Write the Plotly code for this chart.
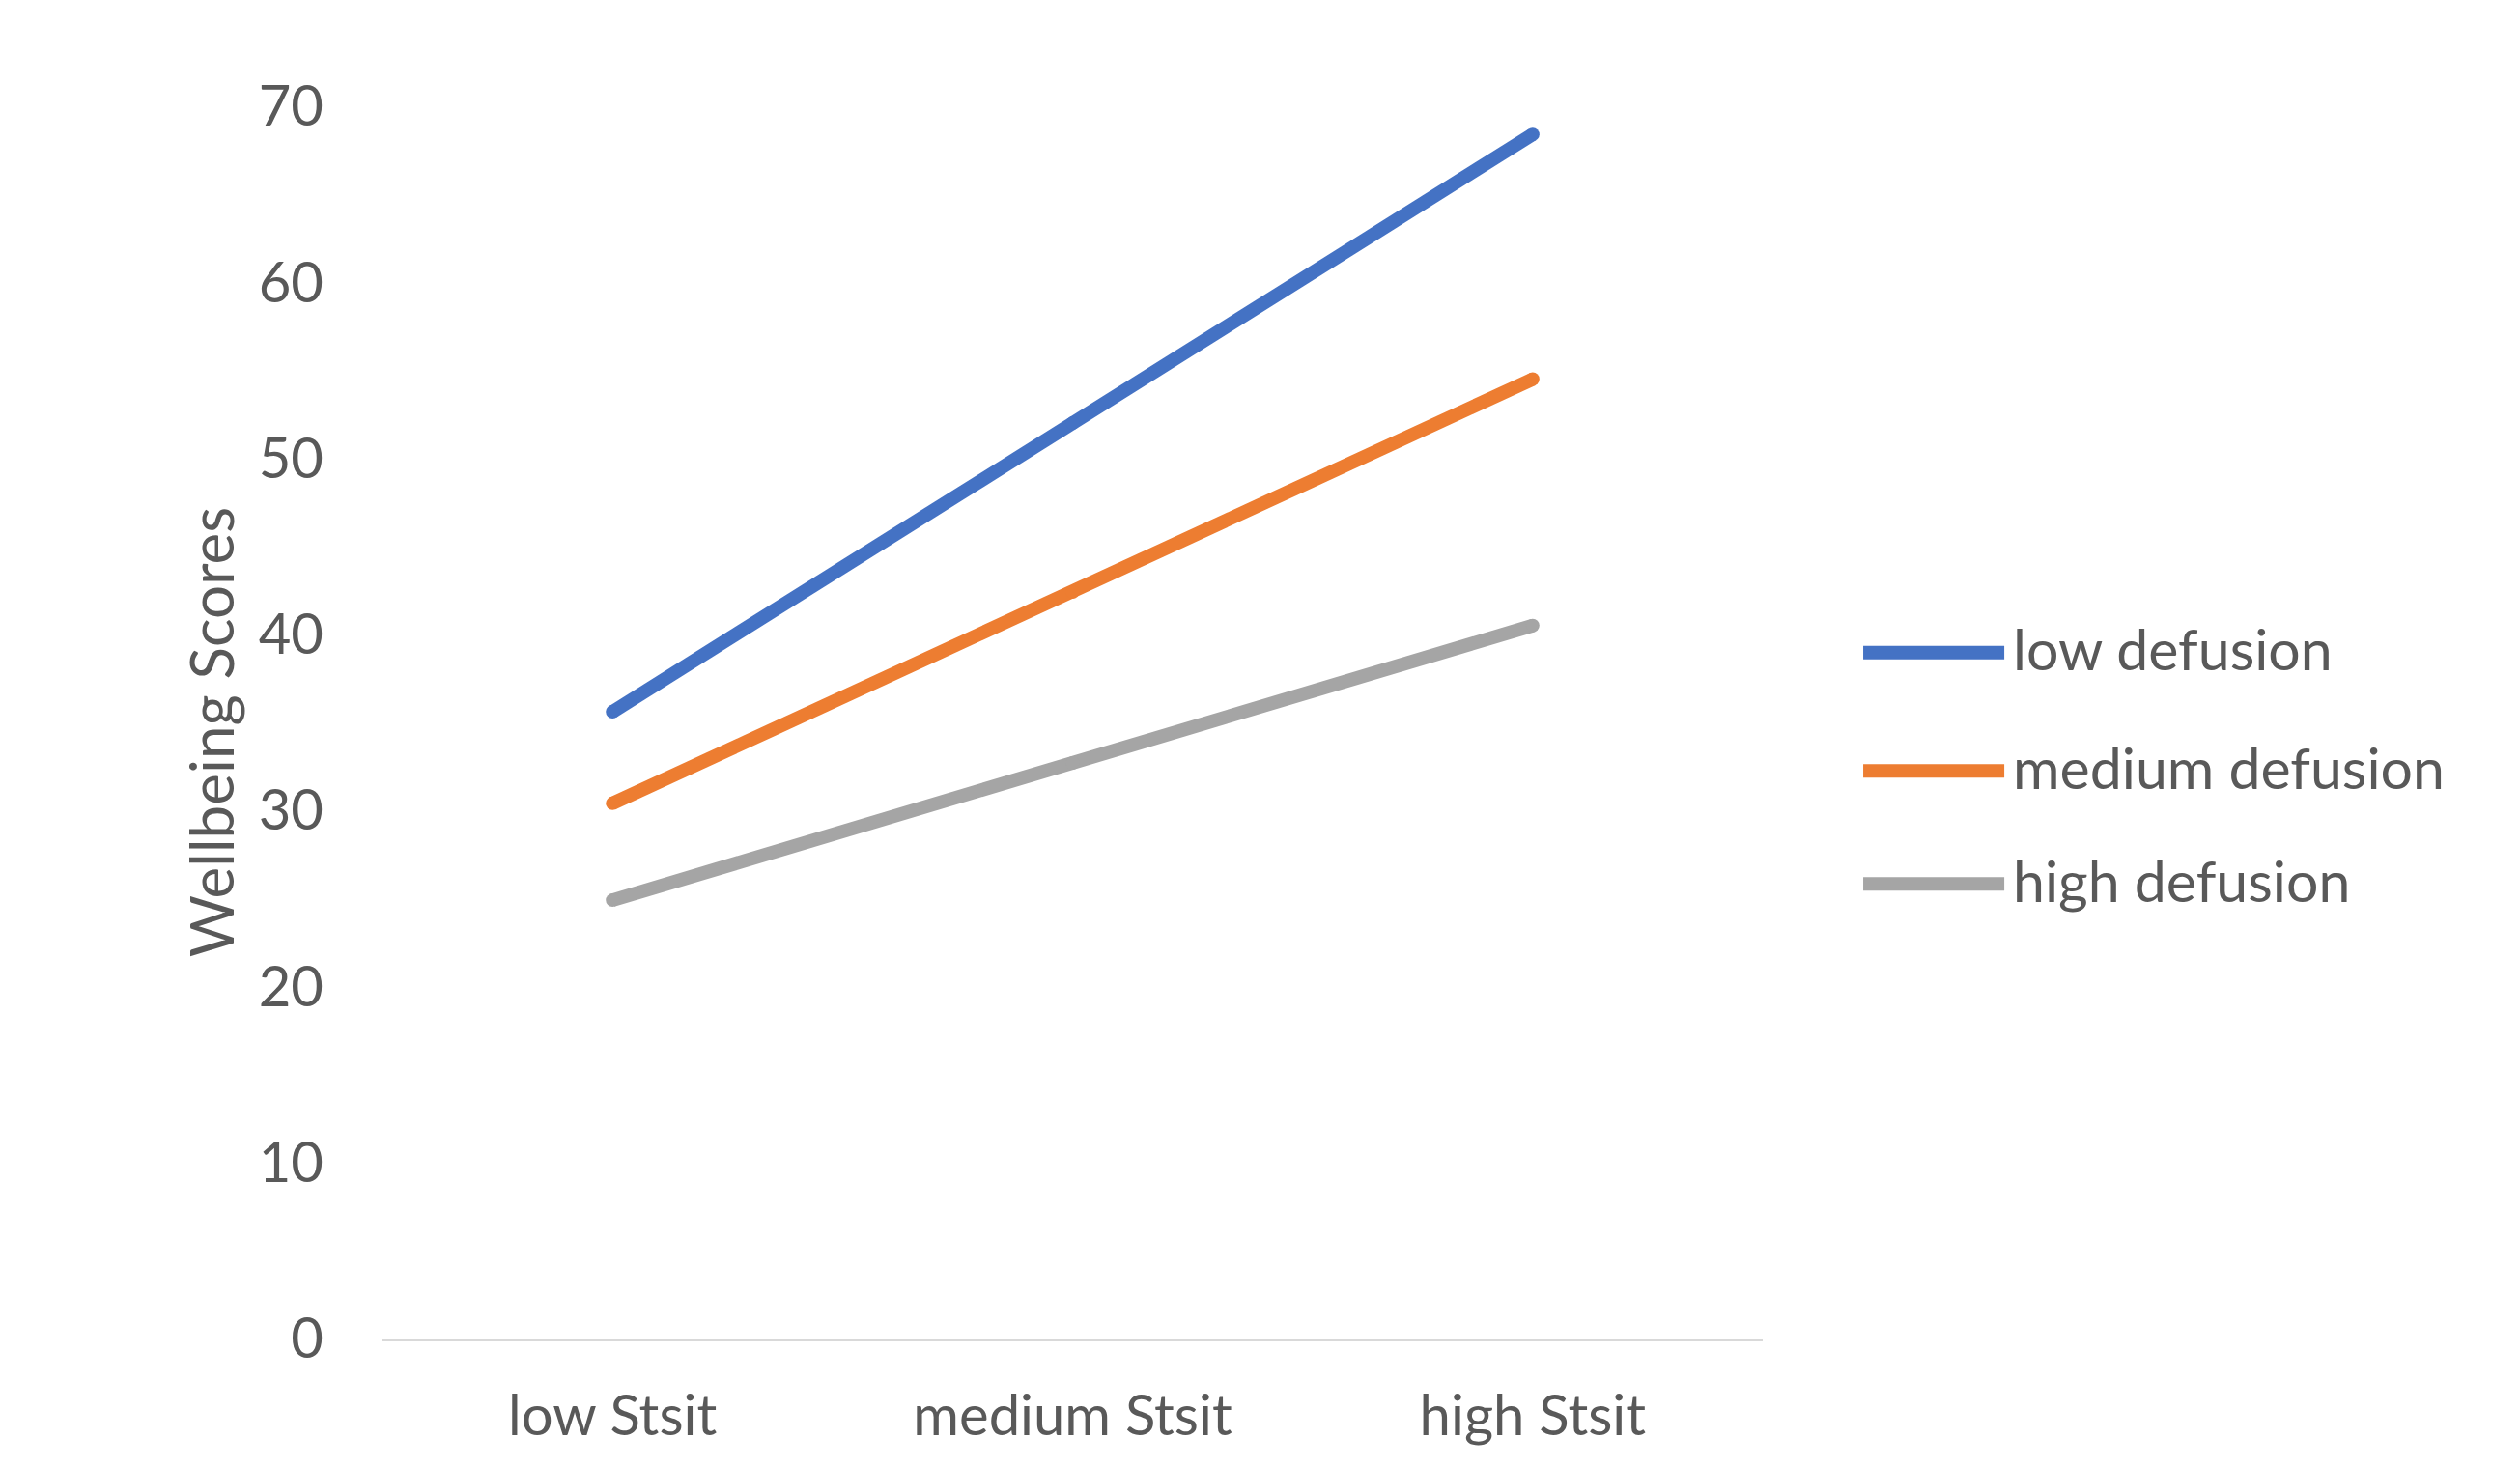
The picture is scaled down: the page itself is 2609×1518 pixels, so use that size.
import plotly.graph_objects as go

categories = ["low Stsit", "medium Stsit", "high Stsit"]
series_names = ["low defusion", "medium defusion", "high defusion"]
low_defusion = [35.6, 52.0, 68.4]
medium_defusion = [30.4, 42.4, 54.5]
high_defusion = [24.9, 32.7, 40.5]
colors = ["#4472C4", "#ED7D31", "#A5A5A5"]
y_ticks = [0, 10, 20, 30, 40, 50, 60, 70]
y_title = "Wellbeing Scores"

FONT = "Lato, Calibri, Carlito, sans-serif"
TXT = "#595959"
LW = 14

fig = go.Figure()
for name, vals, col in zip(series_names, [low_defusion, medium_defusion, high_defusion], colors):
    fig.add_trace(go.Scatter(
        x=categories, y=vals, name=name, mode="lines+markers",
        line=dict(color=col, width=LW),
        marker=dict(color=col, size=LW, line=dict(width=0)),
        showlegend=False,
    ))

# custom legend (long swatches like Excel)
leg_x0, leg_x1, txt_x = 1.0728, 1.175, 1.1795
leg_y = [0.5566, 0.4606, 0.3690]
for name, col, yy in zip(series_names, colors, leg_y):
    fig.add_shape(type="line", xref="paper", yref="paper",
                  x0=leg_x0, x1=leg_x1, y0=yy, y1=yy,
                  line=dict(color=col, width=LW))
    fig.add_annotation(xref="paper", yref="paper", x=txt_x, y=yy + 0.003,
                       text=name, showarrow=False, xanchor="left", yanchor="middle",
                       font=dict(family=FONT, size=59, color=TXT))

# y-axis title
fig.add_annotation(xref="paper", yref="paper", x=-0.1246, y=0.492,
                   text=y_title, textangle=-90, showarrow=False,
                   xanchor="center", yanchor="middle",
                   font=dict(family=FONT, size=62, color=TXT))

fig.update_layout(
    width=2593, height=1502,
    margin=dict(l=388, r=776, t=102, b=97),
    paper_bgcolor="white", plot_bgcolor="white",
    font=dict(family=FONT, size=58, color=TXT),
)
fig.update_xaxes(
    type="category", range=[-0.5, 2.5],
    showgrid=False, zeroline=False,
    showline=True, linecolor="#D9D9D9", linewidth=3,
    ticks="", ticklabelstandoff=27,
    tickfont=dict(family=FONT, size=58, color=TXT),
)
fig.update_yaxes(
    range=[0, 70], tickvals=y_ticks,
    showgrid=False, zeroline=False, showline=False,
    ticks="", ticklabelstandoff=60,
    tickfont=dict(family=FONT, size=58, color=TXT),
)

fig.write_html("out.html")
